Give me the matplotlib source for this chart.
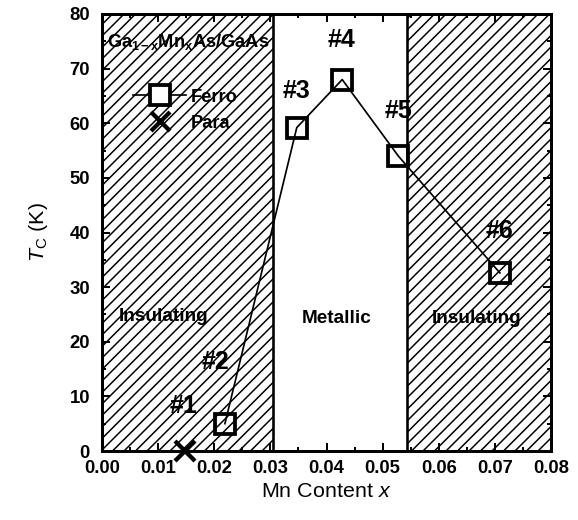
import matplotlib
matplotlib.use("Agg")
import matplotlib.pyplot as plt
from matplotlib.lines import Line2D
from matplotlib.ticker import MultipleLocator

DPI = 138
P = 72.0 / DPI  # points per pixel

plt.rcParams['font.family'] = ['Liberation Sans', 'DejaVu Sans']
plt.rcParams['mathtext.fontset'] = 'custom'
plt.rcParams['mathtext.rm'] = 'Liberation Sans'
plt.rcParams['mathtext.it'] = 'Liberation Sans:italic'
plt.rcParams['mathtext.bf'] = 'Liberation Sans:bold'
plt.rcParams['hatch.linewidth'] = 1.5 * P

# ---- data ----
ferro_x = [0.0219, 0.0347, 0.0428, 0.0528, 0.0709]
ferro_tc = [5.0, 59.2, 68.0, 54.0, 32.6]
para_x = [0.0148]
para_tc = [0.0]
sample_labels = ['#1', '#2', '#3', '#4', '#5', '#6']
label_x = [0.0146, 0.0203, 0.0347, 0.0427, 0.0528, 0.0709]
label_y = [8.2, 16.3, 65.9, 75.2, 62.3, 40.3]
insulating_left = (0.0, 0.0305)
insulating_right = (0.0543, 0.08)
region_names = ['Insulating', 'Metallic', 'Insulating']
region_x = [0.0110, 0.0419, 0.0667]
region_y = [24.6, 24.3, 24.2]
xticks = [0.00, 0.01, 0.02, 0.03, 0.04, 0.05, 0.06, 0.07, 0.08]
yticks = [0, 10, 20, 30, 40, 50, 60, 70, 80]

fig = plt.figure(figsize=(578 / DPI, 520 / DPI), dpi=DPI)
ax = fig.add_axes([102 / 578, 69 / 520, 449 / 578, 437 / 520])

for lo, hi in (insulating_left, insulating_right):
    ax.axvspan(lo, hi, facecolor='white', edgecolor='black', hatch='////',
               linewidth=2.6 * P, zorder=0)

ax.plot(ferro_x, ferro_tc, color='black', linewidth=1.7 * P, marker='s',
        markersize=21 * P, markerfacecolor='none', markeredgecolor='black',
        markeredgewidth=3.8 * P, zorder=3)
ax.plot(para_x, para_tc, linestyle='none', marker='x', markersize=20 * P,
        markeredgewidth=4.3 * P, color='black', zorder=3, clip_on=False)

for s, lx, ly in zip(sample_labels, label_x, label_y):
    ax.text(lx, ly, s, fontsize=25 * P, fontweight='bold', ha='center', va='center')

for name, rx, ry in zip(region_names, region_x, region_y):
    ax.text(rx, ry, name, fontsize=19 * P, fontweight='bold', ha='center', va='center')

ax.text(0.0009, 74.9, r'Ga$_{\mathbf{1-x}}$Mn$_{\mathbf{x}}$As/GaAs', fontsize=18.3 * P,
        fontweight='bold', ha='left', va='center')

handles = [
    Line2D([], [], color='black', linewidth=1.7 * P, marker='s', markersize=21 * P,
           markerfacecolor='white', markeredgecolor='black', markeredgewidth=3.8 * P),
    Line2D([], [], linestyle='none', marker='x', markersize=19 * P,
           markeredgewidth=4.3 * P, color='black'),
]
leg = ax.legend(handles, ['Ferro', 'Para'], loc='center left',
                bbox_to_anchor=(0.069, 0.78), frameon=False, numpoints=1,
                handlelength=2.9, handletextpad=0.25, labelspacing=0.5,
                borderpad=0, borderaxespad=0,
                prop={'family': 'Liberation Sans', 'weight': 'bold', 'size': 18.3 * P})

ax.set_xlim(0, 0.08)
ax.set_ylim(0, 80)
ax.set_xticks(xticks)
ax.set_xticklabels([f'{v:.2f}' for v in xticks])
ax.set_yticks(yticks)
ax.set_yticklabels([str(v) for v in yticks])
ax.xaxis.set_minor_locator(MultipleLocator(0.005))
ax.yaxis.set_minor_locator(MultipleLocator(5))
ax.tick_params(which='both', direction='in', top=True, right=True, width=2 * P)
ax.tick_params(which='major', length=8 * P, labelsize=18.5 * P)
ax.tick_params(which='minor', length=4 * P)
ax.tick_params(axis='x', which='major', pad=9 * P)
ax.tick_params(axis='y', which='major', pad=12 * P)
for lab in ax.get_xticklabels() + ax.get_yticklabels():
    lab.set_fontweight('bold')
for sp in ax.spines.values():
    sp.set_linewidth(3 * P)

ax.set_xlabel(r'Mn Content $x$', fontsize=21.5 * P, labelpad=5 * P)
ax.set_ylabel(r'$T_{\rm C}$ (K)', fontsize=21.5 * P, labelpad=19 * P)

fig.savefig('out.png', dpi=DPI)
